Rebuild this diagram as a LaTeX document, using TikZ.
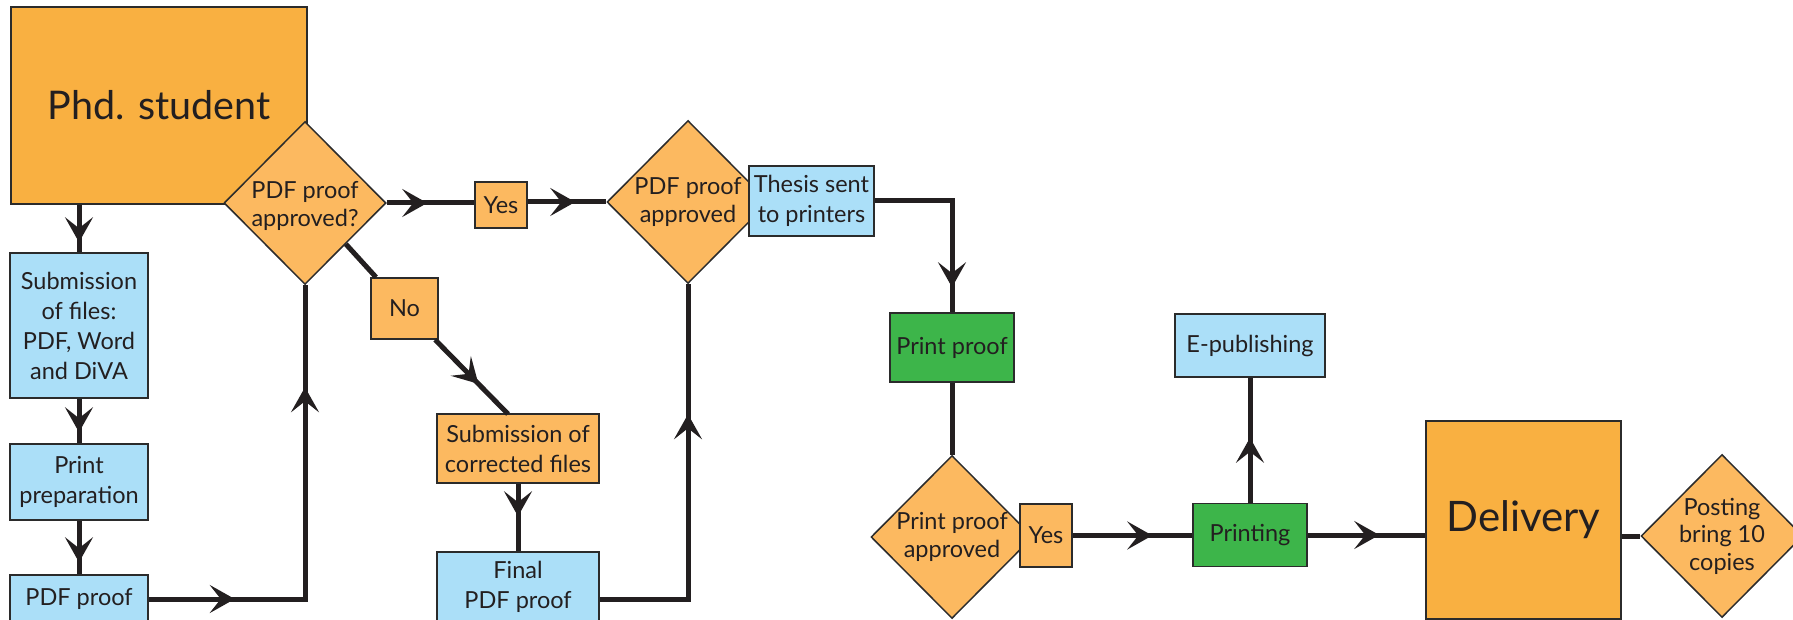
\documentclass[tikz,border=0pt]{standalone}
\usepackage{fontspec}
\setmainfont{Lato}
\usetikzlibrary{shapes.geometric,arrows.meta,decorations.markings}
\definecolor{dorange}{HTML}{F9B041}
\definecolor{lorange}{HTML}{FCB960}
\definecolor{lblue}{HTML}{ABDFF8}
\definecolor{lgreen}{HTML}{3DB54A}
\definecolor{ink}{HTML}{231F20}
\definecolor{edgec}{HTML}{2B2B2B}
\begin{document}
\begin{tikzpicture}[x=1pt,y=-1pt,
  box/.style={draw=edgec, line width=1.5pt, rectangle, inner sep=0pt, align=center, text=ink, font=\fontsize{23.5}{30}\selectfont},
  sz/.style 2 args={minimum width=#1pt, minimum height=#2pt},
  big/.style={font=\fontsize{#1}{48}\selectfont},
  dia/.style={draw=edgec, line width=1.5pt, diamond, fill=lorange, inner sep=0pt, minimum width=162pt, minimum height=163pt},
  dtext/.style={align=center, text=ink, inner sep=0pt, font=\fontsize{23.5}{27.5}\selectfont},
  con/.style={draw=ink, line width=5pt},
  arr/.style={postaction={decorate,decoration={markings,mark=at position #1 with {\arrow{Stealth[length=25pt,width=28pt,inset=11pt]}}}}}
]
\clip (0,0) rectangle (1793,620);
\path[use as bounding box] (0,0) rectangle (1793,620);

% nodes
\node[box, fill=dorange, big=39.5, sz={296}{197}] (phd) at (159,105.5) {Phd. student};
\node[dia, label={[dtext, yshift=-3pt]center:{PDF proof\\approved?}}] (d1) at (305,203) {};
\node[box, fill=lblue, sz={138}{145}] (sub) at (79,325.5) {Submission\\of files:\\PDF, Word\\and DiVA};
\node[box, fill=lblue, sz={138}{76}] (prep) at (79,482) {Print\\preparation};
\node[box, fill=lblue, sz={138}{48}] (pdf) at (79,599) {PDF proof};
\node[box, fill=lorange, sz={52}{46}] (yes1) at (501,205) {Yes};
\node[box, fill=lorange, sz={67}{61}] (no) at (404.5,308.5) {No};
\node[box, fill=lorange, sz={162}{69}] (corr) at (518,448.5) {Submission of\\corrected files};
\node[box, fill=lblue, sz={162}{70}] (final) at (518,587) {Final\\PDF proof};
\node[dia, label={[dtext]center:{PDF proof\\approved}}] (d2) at (688,202) {};
\node[box, fill=lblue, sz={125}{70}] (thesis) at (811.5,201) {Thesis sent\\to printers};
\node[box, fill=lgreen, sz={124}{69}] (pproof) at (952,347.5) {Print proof};
\node[dia, label={[dtext]center:{Print proof\\approved}}] (d3) at (952,537) {};
\node[box, fill=lorange, sz={52}{63}] (yes2) at (1046,535.5) {Yes};
\node[box, fill=lgreen, sz={114}{63}] (printing) at (1250,535) {Printing};
\node[box, fill=lblue, sz={150}{63}] (epub) at (1250,345.5) {E-publishing};
\node[box, fill=dorange, big=42, sz={195}{198}] (delivery) at (1523.5,520) {Delivery};
\node[dia, label={[dtext]center:{Posting\\bring 10\\copies}}] (d4) at (1722,536) {};
\coordinate (corrin) at (508,414);

% connectors
\draw[con, arr=-10pt] (phd.south -| sub.north) -- (sub.north);
\draw[con, arr=-11pt] (sub) -- (prep);
\draw[con, arr=-12pt] (prep) -- (pdf);
\draw[con, arr=86pt, arr=-102pt] (pdf.east) -| (d1.south);
\draw[con, arr=-47pt] (d1.east) -- (yes1.west |- d1.east);
\draw[con, arr=-31pt] (yes1.east |- d2.west) -- (d2.west);
\draw[con] (d1.south east) -- (no);
\draw[con, arr=-42pt] (no) -- (corrin);
\draw[con, arr=-35pt] (corr) -- (final);
\draw[con, arr=-130pt] (final.east |- pdf.east) -| (d2.south);
\draw[con, arr=-25pt] (thesis.east) -| (pproof.north);
\draw[con] (pproof) -- (d3);
\draw[con, arr=-40pt] (yes2.east) -- (yes2.east -| printing.west);
\draw[con, arr=-60pt] (printing) -- (epub);
\draw[con, arr=-46pt] (printing.east) -- (printing.east -| delivery.west);
\draw[con] (delivery.east |- d4.west) -- (d4.west);
\end{tikzpicture}
\end{document}
